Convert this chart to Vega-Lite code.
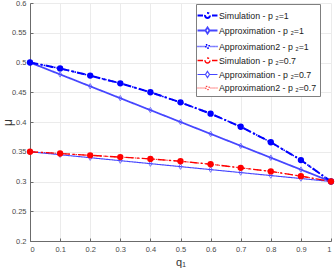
{
  "$schema": "https://vega.github.io/schema/vega-lite/v6.json",
  "width": 301,
  "height": 238,
  "autosize": "none",
  "padding": {"left": 30, "top": 3, "right": 5, "bottom": 28},
  "background": "white",
  "config": {
    "view": {"stroke": null},
    "font": "Liberation Sans",
    "axis": {
      "domainColor": "#6b6b6b",
      "tickColor": "#6b6b6b",
      "gridColor": "#ebebeb",
      "gridWidth": 1,
      "labelColor": "#4a4a4a",
      "labelFontSize": 7.5,
      "labelFont": "Liberation Sans",
      "tickSize": -3,
      "titleFont": "Liberation Sans",
      "titleFontWeight": "normal",
      "titleColor": "#333333"
    }
  },
  "data": {
    "values": [
      {"series": "Approximation2 - p ₂=1", "q": 0, "mu": 0.5},
      {"series": "Approximation2 - p ₂=1", "q": 0.1, "mu": 0.49},
      {"series": "Approximation2 - p ₂=1", "q": 0.2, "mu": 0.478},
      {"series": "Approximation2 - p ₂=1", "q": 0.3, "mu": 0.465},
      {"series": "Approximation2 - p ₂=1", "q": 0.4, "mu": 0.45},
      {"series": "Approximation2 - p ₂=1", "q": 0.5, "mu": 0.433},
      {"series": "Approximation2 - p ₂=1", "q": 0.6, "mu": 0.414},
      {"series": "Approximation2 - p ₂=1", "q": 0.7, "mu": 0.392},
      {"series": "Approximation2 - p ₂=1", "q": 0.8, "mu": 0.366},
      {"series": "Approximation2 - p ₂=1", "q": 0.9, "mu": 0.336},
      {"series": "Approximation2 - p ₂=1", "q": 1, "mu": 0.3},
      {"series": "Approximation2 - p ₂=0.7", "q": 0, "mu": 0.35},
      {"series": "Approximation2 - p ₂=0.7", "q": 0.1, "mu": 0.347},
      {"series": "Approximation2 - p ₂=0.7", "q": 0.2, "mu": 0.344},
      {"series": "Approximation2 - p ₂=0.7", "q": 0.3, "mu": 0.341},
      {"series": "Approximation2 - p ₂=0.7", "q": 0.4, "mu": 0.338},
      {"series": "Approximation2 - p ₂=0.7", "q": 0.5, "mu": 0.334},
      {"series": "Approximation2 - p ₂=0.7", "q": 0.6, "mu": 0.329},
      {"series": "Approximation2 - p ₂=0.7", "q": 0.7, "mu": 0.323},
      {"series": "Approximation2 - p ₂=0.7", "q": 0.8, "mu": 0.317},
      {"series": "Approximation2 - p ₂=0.7", "q": 0.9, "mu": 0.309},
      {"series": "Approximation2 - p ₂=0.7", "q": 1, "mu": 0.3},
      {"series": "Approximation - p ₂=1", "q": 0, "mu": 0.5},
      {"series": "Approximation - p ₂=1", "q": 0.1, "mu": 0.48},
      {"series": "Approximation - p ₂=1", "q": 0.2, "mu": 0.46},
      {"series": "Approximation - p ₂=1", "q": 0.3, "mu": 0.44},
      {"series": "Approximation - p ₂=1", "q": 0.4, "mu": 0.42},
      {"series": "Approximation - p ₂=1", "q": 0.5, "mu": 0.4},
      {"series": "Approximation - p ₂=1", "q": 0.6, "mu": 0.38},
      {"series": "Approximation - p ₂=1", "q": 0.7, "mu": 0.36},
      {"series": "Approximation - p ₂=1", "q": 0.8, "mu": 0.34},
      {"series": "Approximation - p ₂=1", "q": 0.9, "mu": 0.32},
      {"series": "Approximation - p ₂=1", "q": 1, "mu": 0.3},
      {"series": "Approximation - p ₂=0.7", "q": 0, "mu": 0.35},
      {"series": "Approximation - p ₂=0.7", "q": 0.1, "mu": 0.345},
      {"series": "Approximation - p ₂=0.7", "q": 0.2, "mu": 0.34},
      {"series": "Approximation - p ₂=0.7", "q": 0.3, "mu": 0.335},
      {"series": "Approximation - p ₂=0.7", "q": 0.4, "mu": 0.33},
      {"series": "Approximation - p ₂=0.7", "q": 0.5, "mu": 0.325},
      {"series": "Approximation - p ₂=0.7", "q": 0.6, "mu": 0.32},
      {"series": "Approximation - p ₂=0.7", "q": 0.7, "mu": 0.315},
      {"series": "Approximation - p ₂=0.7", "q": 0.8, "mu": 0.31},
      {"series": "Approximation - p ₂=0.7", "q": 0.9, "mu": 0.305},
      {"series": "Approximation - p ₂=0.7", "q": 1, "mu": 0.3},
      {"series": "Simulation - p ₂=1", "q": 0, "mu": 0.5},
      {"series": "Simulation - p ₂=1", "q": 0.1, "mu": 0.49},
      {"series": "Simulation - p ₂=1", "q": 0.2, "mu": 0.478},
      {"series": "Simulation - p ₂=1", "q": 0.3, "mu": 0.465},
      {"series": "Simulation - p ₂=1", "q": 0.4, "mu": 0.45},
      {"series": "Simulation - p ₂=1", "q": 0.5, "mu": 0.433},
      {"series": "Simulation - p ₂=1", "q": 0.6, "mu": 0.414},
      {"series": "Simulation - p ₂=1", "q": 0.7, "mu": 0.392},
      {"series": "Simulation - p ₂=1", "q": 0.8, "mu": 0.366},
      {"series": "Simulation - p ₂=1", "q": 0.9, "mu": 0.336},
      {"series": "Simulation - p ₂=1", "q": 1, "mu": 0.3},
      {"series": "Simulation - p ₂=0.7", "q": 0, "mu": 0.35},
      {"series": "Simulation - p ₂=0.7", "q": 0.1, "mu": 0.347},
      {"series": "Simulation - p ₂=0.7", "q": 0.2, "mu": 0.344},
      {"series": "Simulation - p ₂=0.7", "q": 0.3, "mu": 0.341},
      {"series": "Simulation - p ₂=0.7", "q": 0.4, "mu": 0.338},
      {"series": "Simulation - p ₂=0.7", "q": 0.5, "mu": 0.334},
      {"series": "Simulation - p ₂=0.7", "q": 0.6, "mu": 0.329},
      {"series": "Simulation - p ₂=0.7", "q": 0.7, "mu": 0.323},
      {"series": "Simulation - p ₂=0.7", "q": 0.8, "mu": 0.317},
      {"series": "Simulation - p ₂=0.7", "q": 0.9, "mu": 0.309},
      {"series": "Simulation - p ₂=0.7", "q": 1, "mu": 0.3}
    ]
  },
  "encoding": {
    "x": {
      "field": "q", "type": "quantitative",
      "scale": {"domain": [0, 1], "nice": false},
      "axis": {
        "values": [0, 0.1, 0.2, 0.3, 0.4, 0.5, 0.6, 0.7, 0.8, 0.9, 1],
        "format": "~g",
        "title": "q₁",
        "titleFontSize": 11,
        "titlePadding": 4,
        "labelPadding": 7
      }
    },
    "y": {
      "field": "mu", "type": "quantitative",
      "scale": {"domain": [0.2, 0.6], "nice": false, "zero": false},
      "axis": {
        "values": [0.2, 0.25, 0.3, 0.35, 0.4, 0.45, 0.5, 0.55, 0.6],
        "format": "~g",
        "title": "μ",
        "titleFontSize": 12,
        "titleX": -23,
        "titleY": 119,
        "titleBaseline": "middle",
        "labelPadding": 7
      }
    }
  },
  "layer": [
    {
      "mark": {"type": "line", "clip": true},
      "encoding": {
        "color": {
          "field": "series", "type": "nominal",
          "scale": {
            "domain": ["Simulation - p ₂=1", "Approximation - p ₂=1", "Approximation2 - p ₂=1", "Simulation - p ₂=0.7", "Approximation - p ₂=0.7", "Approximation2 - p ₂=0.7"],
            "range": ["#0000ff", "#4646ff", "#0000ff", "#ff0000", "#4646ff", "#ff0000"]
          },
          "legend": {
            "title": null,
            "orient": "none",
            "legendX": 166,
            "legendY": 1,
            "fillColor": "white",
            "strokeColor": "#7f7f7f",
            "padding": 3,
            "rowPadding": 0,
            "labelFontSize": 8.8,
            "labelColor": "#1a1a1a",
            "labelFont": "Liberation Sans",
            "labelOffset": 3,
            "symbolSize": 225,
            "symbolFillColor": "transparent",
            "labelLimit": 200,
            "encode": {
              "symbols": {
                "update": {
                  "shape": {"signal": "indexof(datum.value, 'Simulation') == 0 ? 'M-1.33,0H-0.6M0.6,0H1.33M0.33,0A0.33,0.33 0 1,1 -0.33,0A0.33,0.33 0 1,1 0.33,0Z' : indexof(datum.value, 'Approximation2') == 0 ? 'M-1.33,0H-1.2M-1.06,0H-0.93M-0.8,0H-0.67M-0.53,0H-0.4M0.4,0H0.53M0.67,0H0.8M0.93,0H1.06M1.2,0H1.33M-0.22,-0.22H0.22V0.22H-0.22Z' : 'M-1.33,0H-0.3M0.3,0H1.33M0,-0.42L0.27,0L0,0.42L-0.27,0Z'"},
                  "strokeWidth": {"signal": "indexof(datum.value, 'Simulation') == 0 ? 2 : 1"},
                  "fillOpacity": {"value": 0},
                  "strokeDash": {"value": []},
                  "size": {"value": 225}
                }
              }
            }
          }
        },
        "strokeDash": {
          "field": "series", "type": "nominal",
          "scale": {
            "domain": ["Simulation - p ₂=1", "Approximation - p ₂=1", "Approximation2 - p ₂=1", "Simulation - p ₂=0.7", "Approximation - p ₂=0.7", "Approximation2 - p ₂=0.7"],
            "range": [[8, 3, 2, 3], [1, 0], [1.5, 2], [8, 3, 2, 3], [1, 0], [1.5, 2]]
          },
          "legend": null
        },
        "strokeWidth": {
          "field": "series", "type": "nominal",
          "scale": {
            "domain": ["Simulation - p ₂=1", "Approximation - p ₂=1", "Approximation2 - p ₂=1", "Simulation - p ₂=0.7", "Approximation - p ₂=0.7", "Approximation2 - p ₂=0.7"],
            "range": [2, 0.9, 1, 2, 0.9, 1]
          },
          "legend": null
        },
        "order": {"field": "q"}
      }
    },
    {
      "transform": [{"filter": "indexof(datum.series, 'Approximation2') == 0"}],
      "mark": {"type": "point", "shape": "square", "filled": false, "size": 12, "strokeWidth": 1},
      "encoding": {
        "color": {"field": "series", "type": "nominal"}
      }
    },
    {
      "transform": [{"filter": "indexof(datum.series, 'Approximation - ') == 0"}],
      "mark": {"type": "point", "shape": "M0,-1L0.6,0L0,1L-0.6,0Z", "filled": false, "size": 30, "strokeWidth": 1},
      "encoding": {
        "color": {"field": "series", "type": "nominal"}
      }
    },
    {
      "transform": [{"filter": "indexof(datum.series, 'Simulation') == 0"}],
      "mark": {"type": "point", "shape": "circle", "filled": true, "size": 40, "strokeWidth": 0, "opacity": 1},
      "encoding": {
        "color": {"field": "series", "type": "nominal"}
      }
    }
  ]
}
